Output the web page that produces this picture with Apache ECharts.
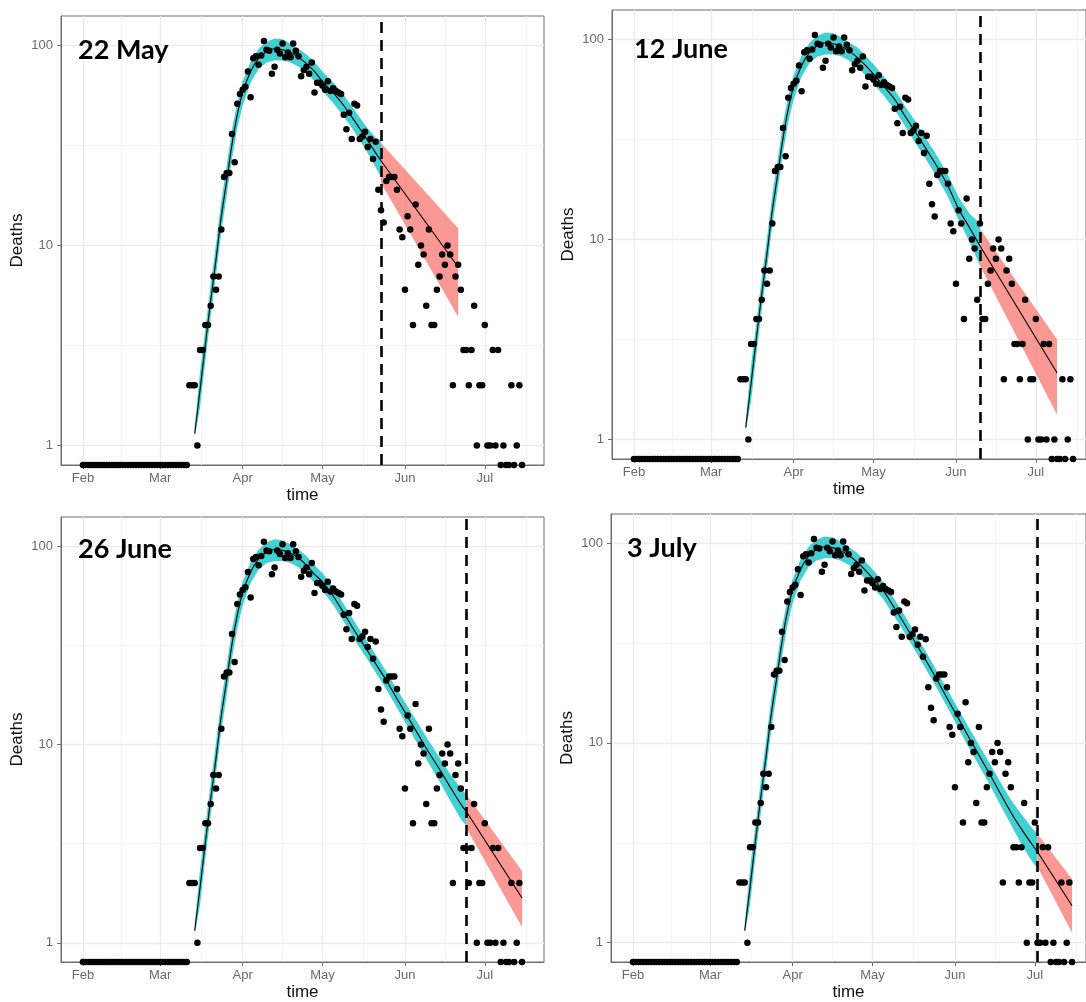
<!DOCTYPE html>
<html>
<head>
<meta charset="utf-8">
<script src="https://cdn.jsdelivr.net/npm/echarts@6/dist/echarts.min.js"></script>
<style>
  html, body { margin: 0; padding: 0; background: #fff; }
  #chart { width: 1086px; height: 1002px; }
</style>
</head>
<body>
<div id="chart"></div>
<script>
// daily deaths from 1 Feb 2020 (index = days since 1 Feb)
const deaths = [
  0,0,0,0,0,0,0,0,0,0, 0,0,0,0,0,0,0,0,0,0, 0,0,0,0,0,0,0,0,0,0, 0,0,0,0,0,0,0,0,0,0,
  2,2,2,1,3,3,4,4,5,7,
  6,7,12,22,23,23,36,26,51,57,
  60,62,74,55,86,88,80,89,105,95,
  94,72,78,95,91,102,87,92,87,102,
  94,88,70,75,78,72,82,58,65,65,
  63,60,66,59,61,59,58,57,45,38,
  46,34,51,50,34,35,37,31,34,27,
  33,19,15,13,21,22,22,22,19,12,
  11,6,14,12,4,16,8,10,9,5,
  12,4,4,6,7,9,8,10,9,2,
  7,8,6,3,3,2,3,5,1,2,
  2,4,1,1,3,1,3,0,1,0,
  0,2,0,1,2,0
];

const monthTicks = ['2020-02-01', '2020-03-01', '2020-04-01', '2020-05-01', '2020-06-01', '2020-07-01'];
const monthLabels = ['Feb', 'Mar', 'Apr', 'May', 'Jun', 'Jul'];
const minorTicks = ['2020-02-15T12:00', '2020-03-16T12:00', '2020-04-16T00:00', '2020-05-16T12:00', '2020-06-16T00:00', '2020-07-16T12:00'];
const yTicks = [1, 10, 100];
const yMinorTicks = [3.162, 31.62];

const panelTitles = ['22 May', '12 June', '26 June', '3 July'];
const cutoffDays = [112, 130, 144, 152];
const forecastEndDays = [141, 159, 165, 165];

// fitted curve, shared rising part (days since 1 Feb)
const riseDays = [42, 44, 46, 48, 50, 52, 54, 56, 58, 60, 63, 66, 69, 72, 75, 78, 81];
const riseLo  = [1.1, 1.55, 2.65, 4.4, 7.1, 11.7, 17.6, 27, 38.5, 50, 65, 76, 82, 84, 84, 82, 78];
const riseMid = [1.15, 1.9, 3.2, 5.3, 8.5, 14, 21, 32, 45, 58, 74, 86, 93, 96, 95, 92, 87];
const riseHi  = [1.25, 2.35, 3.85, 6.4, 10.2, 16.8, 25, 38, 52, 66, 83, 96, 104, 108, 107, 102, 96];

// decline part of each fit
const fitDays1 = [84, 87, 90, 94, 98, 102, 106, 110, 112];
const fitLo1  = [72.5, 66, 59, 51.5, 44, 37, 30.5, 24.5, 22];
const fitMid1 = [81, 74, 66, 58, 50, 42, 35, 29, 26.5];
const fitHi1  = [90, 82.5, 74, 65.5, 56.5, 47.5, 40, 34.5, 33.5];

const fitDays2 = [84, 87, 90, 94, 98, 102, 106, 110, 114, 118, 122, 126, 130];
const fitLo2  = [72, 66, 60, 52, 44.5, 36.5, 30, 24.8, 20.3, 16.3, 12.5, 9.8, 7.4];
const fitMid2 = [81, 74, 67, 58, 50, 41, 34, 28, 23, 18.5, 14.2, 11.5, 9.3];
const fitHi2  = [91, 83, 75, 65, 56, 46, 38.5, 31.6, 26, 21, 16.3, 13.5, 12];

const fitDays3 = [84, 87, 90, 94, 98, 102, 106, 110, 114, 118, 122, 126, 130, 134, 138, 142, 144];
const fitLo3  = [72, 65, 59.5, 50.5, 41.5, 33.8, 28, 23, 18.9, 15.3, 12.3, 9.9, 8.0, 6.5, 5.2, 4.2, 3.9];
const fitMid3 = [80, 72, 66, 56, 46, 37.5, 31, 25.5, 21, 17, 13.8, 11.2, 9.1, 7.5, 6.1, 5.0, 4.6];
const fitHi3  = [89, 80, 73, 62, 51, 41.6, 34.4, 28.3, 23.3, 18.9, 15.5, 12.7, 10.4, 8.6, 7.1, 6.0, 5.6];

const fitDays4 = [84, 87, 90, 94, 98, 102, 106, 110, 114, 118, 122, 126, 130, 134, 138, 142, 146, 150, 152];
const fitLo4  = [73, 67, 60.5, 52.5, 43.5, 35.7, 29, 23.5, 19, 15.2, 12.1, 9.6, 7.7, 6.2, 4.9, 3.9, 3.1, 2.55, 2.35];
const fitMid4 = [81, 74, 67, 58, 48, 39.5, 32, 26, 21, 16.8, 13.5, 10.8, 8.7, 7.0, 5.6, 4.5, 3.7, 3.1, 2.85];
const fitHi4  = [90, 82, 74, 64, 53, 43.7, 35.4, 28.8, 23.2, 18.6, 15, 12.1, 9.8, 7.9, 6.4, 5.2, 4.4, 3.75, 3.5];

// forecast band: [at cutoff, at forecast end]
const redLo1 = [20.5, 4.4],  redMid1 = [26.5, 7.8],  redHi1 = [32.5, 12.2];
const redLo2 = [7.4, 1.33],  redMid2 = [9.3, 2.15],  redHi2 = [11.3, 3.16];
const redLo3 = [3.8, 1.2],   redMid3 = [4.6, 1.68],  redHi3 = [5.6, 2.3];
const redLo4 = [2.4, 1.12],  redMid4 = [2.85, 1.53], redHi4 = [3.5, 2.08];

const Y_MIN = 0.8, Y_MAX = 140;
const X_MIN = -8.25, X_MAX = 173.25;    // full panel range in days
const PX_PER_DAY = 483 / (X_MAX - X_MIN);
const DAY = 864e5;
const T0 = new Date('2020-02-01T00:00').getTime();
// date string -> days since 1 Feb
const toDay = s => (new Date(s.length === 10 ? s + 'T00:00' : s).getTime() - T0) / DAY;
const monthDays = monthTicks.map(toDay);

const panels = [
  {days: fitDays1, lo: fitLo1, mid: fitMid1, hi: fitHi1, rLo: redLo1, rMid: redMid1, rHi: redHi1},
  {days: fitDays2, lo: fitLo2, mid: fitMid2, hi: fitHi2, rLo: redLo2, rMid: redMid2, rHi: redHi2},
  {days: fitDays3, lo: fitLo3, mid: fitMid3, hi: fitHi3, rLo: redLo3, rMid: redMid3, rHi: redHi3},
  {days: fitDays4, lo: fitLo4, mid: fitMid4, hi: fitHi4, rLo: redLo4, rMid: redMid4, rHi: redHi4}
];

// right-hand panels are cut off by the picture edge
const layout = [
  {left: 61, top: 16, width: 483, height: 449},
  {left: 612, top: 10, width: 474, height: 449},
  {left: 61, top: 517, width: 483, height: 449},
  {left: 611, top: 514, width: 475, height: 449}
];
const titlePos = [[78, 50], [634, 49], [78, 549], [627, 548]];

const CYAN = 'rgba(0,191,196,0.74)';
const RED = 'rgba(248,118,109,0.74)';
const FONT = '"Liberation Sans", Arial, sans-serif';

const zip = (days, vals) => days.map((d, k) => [d, vals[k]]);

// ribbon between lower and upper bound, one polygon through the axis scales
function bandSeries(i, band, color) {
  return {
    type: 'custom', xAxisIndex: i, yAxisIndex: i, z: 2, silent: true, clip: true,
    data: band,
    encode: {x: 0, y: [1, 2]},
    renderItem: (params, api) => {
      if (params.dataIndex !== 0) return null;
      const upper = band.map(b => api.coord([b[0], b[2]]));
      const lower = band.map(b => api.coord([b[0], b[1]])).reverse();
      return {type: 'polygon', shape: {points: upper.concat(lower)}, style: {fill: color}};
    }
  };
}

function gridLines(i, lines, color, width) {
  return {
    type: 'line', xAxisIndex: i, yAxisIndex: i, data: [], z: 0, silent: true,
    markLine: {
      z: 0, silent: true, symbol: ['none', 'none'], label: {show: false}, animation: false,
      lineStyle: {color, width, type: 'solid'},
      data: lines
    }
  };
}

const grid = [], xAxis = [], yAxis = [], series = [], graphic = [];

panels.forEach((p, i) => {
  grid.push(Object.assign({
    show: true, borderColor: '#6e6e6e', borderWidth: 1, backgroundColor: '#fff'
  }, layout[i]));

  xAxis.push({
    type: 'value', gridIndex: i, min: X_MIN, max: X_MIN + layout[i].width / PX_PER_DAY,
    name: 'time', nameLocation: 'middle', nameGap: 22,
    nameTextStyle: {fontSize: 17, color: '#111', fontFamily: FONT},
    axisLine: {show: true, onZero: false, lineStyle: {color: '#6e6e6e', width: 1}},
    axisTick: {show: true, length: 4, customValues: monthDays, lineStyle: {color: '#6e6e6e'}},
    axisLabel: {
      customValues: monthDays, fontSize: 13, color: '#6a6a6a', margin: 7, fontFamily: FONT,
      formatter: v => {
        const k = monthDays.findIndex(t => Math.abs(t - v) < 0.5);
        return k >= 0 ? monthLabels[k] : '';
      }
    },
    splitLine: {show: false}
  });

  yAxis.push({
    type: 'log', logBase: 10, gridIndex: i, min: Y_MIN, max: Y_MAX,
    name: 'Deaths', nameLocation: 'middle', nameGap: 35, nameRotate: 90,
    nameTextStyle: {fontSize: 17, color: '#111', fontFamily: FONT},
    axisLine: {show: true, onZero: false, lineStyle: {color: '#6e6e6e', width: 1}},
    axisTick: {show: true, length: 4, customValues: yTicks, lineStyle: {color: '#6e6e6e'}},
    axisLabel: {customValues: yTicks, fontSize: 13, color: '#6a6a6a', margin: 8, fontFamily: FONT,
      formatter: v => String(Math.round(v))},
    splitLine: {show: false}
  });

  // grid lines (major + minor) behind everything
  series.push(gridLines(i, minorTicks.map(s => ({xAxis: toDay(s)})).concat(yMinorTicks.map(v => ({yAxis: v}))), '#f3f3f3', 0.8));
  series.push(gridLines(i, monthDays.map(t => ({xAxis: t})).concat(yTicks.map(v => ({yAxis: v}))), '#ebebeb', 1.3));

  const days = riseDays.concat(p.days);
  const lo = riseLo.concat(p.lo);
  const mid = riseMid.concat(p.mid);
  const hi = riseHi.concat(p.hi);
  const rDays = [cutoffDays[i], forecastEndDays[i]];

  // cyan confidence band and red forecast band
  series.push(bandSeries(i, days.map((d, k) => [d, lo[k], hi[k]]), CYAN));
  series.push(bandSeries(i, rDays.map((d, k) => [d, p.rLo[k], p.rHi[k]]), RED));

  // observed deaths (zeros sit on the lower panel edge, as on a log scale)
  series.push({
    type: 'scatter', xAxisIndex: i, yAxisIndex: i, z: 3, silent: true,
    symbolSize: 6.5, itemStyle: {color: '#000', opacity: 1},
    data: deaths.map((v, d) => [d, v > 0 ? v : Y_MIN])
  });

  // fitted line + forecast line
  series.push({
    type: 'line', xAxisIndex: i, yAxisIndex: i, z: 4, smooth: 0.3, silent: true,
    symbol: 'none', lineStyle: {color: '#000', width: 1.1},
    data: zip(days, mid)
  });
  series.push({
    type: 'line', xAxisIndex: i, yAxisIndex: i, z: 5, silent: true,
    symbol: 'none', lineStyle: {color: '#000', width: 1.1},
    data: zip(rDays, p.rMid),
    markLine: {
      z: 6, silent: true, symbol: ['none', 'none'], label: {show: false}, animation: false,
      lineStyle: {color: '#000', width: 2.6, type: [11, 7]},
      data: [{xAxis: cutoffDays[i]}]
    }
  });

  graphic.push({
    type: 'text', x: titlePos[i][0], y: titlePos[i][1], z: 100,
    style: {text: panelTitles[i], fill: '#000', font: 'bold 27px Lato, "Open Sans", sans-serif', verticalAlign: 'middle'}
  });
});

const chart = echarts.init(document.getElementById('chart'));
chart.setOption({
  animation: false,
  backgroundColor: '#fff',
  textStyle: {fontFamily: FONT},
  grid, xAxis, yAxis, series, graphic
});
</script>
</body>
</html>
